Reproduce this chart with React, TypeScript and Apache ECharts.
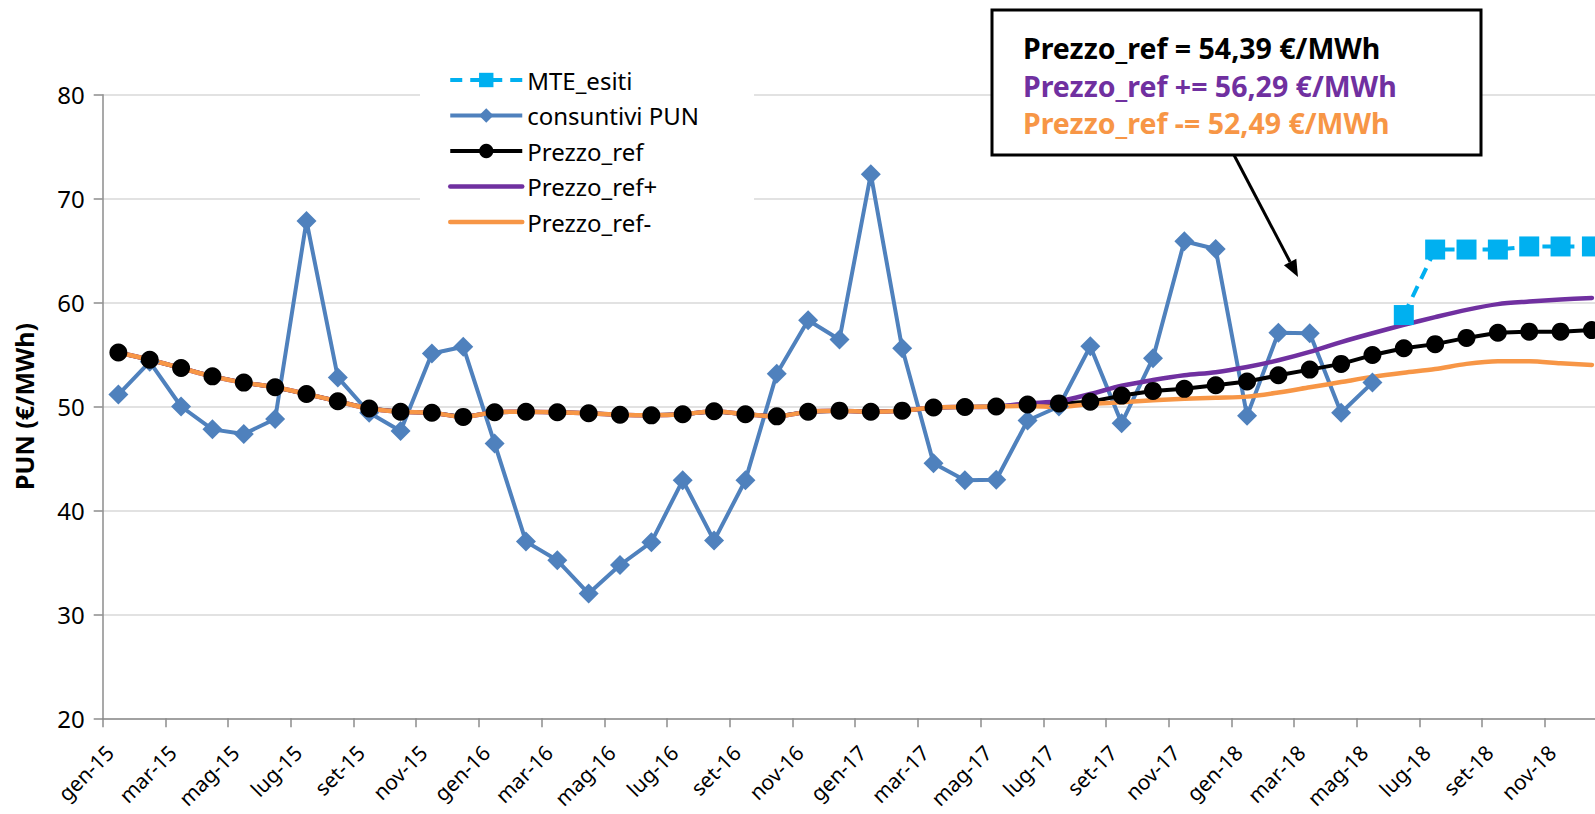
import React, { useEffect, useRef } from 'react';
import * as echarts from 'echarts';

const FONT = '"Noto Sans", "DejaVu Sans", sans-serif';

const months = [
  'gen-15', 'feb-15', 'mar-15', 'apr-15', 'mag-15', 'giu-15', 'lug-15', 'ago-15', 'set-15', 'ott-15', 'nov-15', 'dic-15',
  'gen-16', 'feb-16', 'mar-16', 'apr-16', 'mag-16', 'giu-16', 'lug-16', 'ago-16', 'set-16', 'ott-16', 'nov-16', 'dic-16',
  'gen-17', 'feb-17', 'mar-17', 'apr-17', 'mag-17', 'giu-17', 'lug-17', 'ago-17', 'set-17', 'ott-17', 'nov-17', 'dic-17',
  'gen-18', 'feb-18', 'mar-18', 'apr-18', 'mag-18', 'giu-18', 'lug-18', 'ago-18', 'set-18', 'ott-18', 'nov-18', 'dic-18',
];

// consuntivi PUN: gen-15 .. mag-18
const consuntiviPUN = [
  51.15, 54.3, 50.0, 47.8, 47.35, 48.8, 67.85, 52.8, 49.4, 47.65, 55.1, 55.75,
  46.45, 37.0, 35.2, 32.0, 34.75, 36.95, 42.9, 37.1, 42.9, 53.15, 58.3, 56.45,
  72.35, 55.6, 44.55, 42.9, 42.95, 48.65, 50.0, 55.8, 48.4, 54.65, 65.9, 65.15,
  49.1, 57.1, 57.05, 49.4, 52.3,
];

const prezzoRef = [
  55.2, 54.5, 53.7, 52.9, 52.3, 51.85, 51.2, 50.5, 49.8, 49.5, 49.4, 49.0,
  49.45, 49.5, 49.45, 49.35, 49.2, 49.15, 49.25, 49.55, 49.25, 49.05, 49.5, 49.6,
  49.5, 49.6, 49.9, 49.95, 50.0, 50.2, 50.3, 50.45, 51.05, 51.5, 51.7, 52.05,
  52.4, 53.0, 53.55, 54.1, 54.95, 55.6, 56.0, 56.6, 57.1, 57.2, 57.2, 57.35,
];

const prezzoRefPlus = [
  55.2, 54.5, 53.7, 52.9, 52.3, 51.85, 51.2, 50.5, 49.8, 49.5, 49.4, 49.0,
  49.45, 49.5, 49.45, 49.35, 49.2, 49.15, 49.25, 49.55, 49.25, 49.05, 49.5, 49.6,
  49.5, 49.6, 49.9, 49.95, 50.0, 50.3, 50.5, 51.2, 52.0, 52.55, 53.0, 53.3,
  53.8, 54.45, 55.25, 56.2, 57.05, 57.85, 58.6, 59.3, 59.85, 60.1, 60.3, 60.45,
];

const prezzoRefMinus = [
  55.2, 54.5, 53.7, 52.9, 52.3, 51.85, 51.2, 50.5, 49.8, 49.5, 49.4, 49.0,
  49.45, 49.5, 49.45, 49.35, 49.2, 49.15, 49.25, 49.55, 49.25, 49.05, 49.5, 49.6,
  49.5, 49.6, 49.9, 49.95, 50.0, 50.05, 49.95, 50.25, 50.4, 50.6, 50.75, 50.85,
  50.95, 51.35, 51.85, 52.35, 52.85, 53.25, 53.6, 54.1, 54.35, 54.35, 54.15, 54.0,
];

const mteMonths = ['giu-18', 'lug-18', 'ago-18', 'set-18', 'ott-18', 'nov-18', 'dic-18'];
const mteEsiti = [58.8, 65.1, 65.1, 65.1, 65.4, 65.4, 65.4];

const yMin = 20;
const yMax = 80;
const yInterval = 10;

const seriesNames = ['MTE_esiti', 'consuntivi PUN', 'Prezzo_ref', 'Prezzo_ref+', 'Prezzo_ref-'];
const calloutLines = [
  { text: 'Prezzo_ref = 54,39 €/MWh', color: '#000000' },
  { text: 'Prezzo_ref += 56,29 €/MWh', color: '#7030A0' },
  { text: 'Prezzo_ref -= 52,49 €/MWh', color: '#F79646' },
];

export default function App() {
  const ref = useRef<HTMLDivElement>(null);

  useEffect(() => {
    if (!ref.current) return;
    const chart = echarts.init(ref.current, undefined, { renderer: 'svg' });

    // arrow geometry
    const ax1 = 1234, ay1 = 155, tipX = 1298, tipY = 277;
    const dx = tipX - ax1, dy = tipY - ay1;
    const len = Math.sqrt(dx * dx + dy * dy);
    const ux = dx / len, uy = dy / len;
    const headLen = 17, headHalf = 7;
    const bx = tipX - ux * headLen, by = tipY - uy * headLen;
    const px = -uy, py = ux;

    const option: any = {
      animation: false,
      backgroundColor: '#ffffff',
      grid: { left: 102.7, top: 94.7, width: 1504.9, height: 623.6, containLabel: false },
      legend: {
        orient: 'vertical',
        left: 420,
        top: 60,
        padding: [8, 55, 18, 28],
        backgroundColor: '#ffffff',
        itemWidth: 72,
        itemHeight: 18,
        itemGap: 11.5,
        textStyle: { fontSize: 24, lineHeight: 24, color: '#000', fontFamily: FONT },
        data: [
          { name: seriesNames[0], lineStyle: { width: 4 } },
          { name: seriesNames[1], lineStyle: { width: 4 } },
          { name: seriesNames[2], lineStyle: { width: 4 } },
          { name: seriesNames[3], lineStyle: { width: 4.5 }, itemStyle: { opacity: 0 } },
          { name: seriesNames[4], lineStyle: { width: 4.5 }, itemStyle: { opacity: 0 } },
        ],
      },
      xAxis: {
        type: 'category',
        data: months,
        boundaryGap: true,
        axisLine: { show: true, lineStyle: { color: '#8c8c8c', width: 1.5 } },
        axisTick: { show: true, interval: 1, length: 9, lineStyle: { color: '#8c8c8c', width: 1.5 } },
        axisLabel: {
          interval: 1,
          rotate: 45,
          margin: 22,
          padding: [0, 12, 0, 0],
          fontSize: 21,
          color: '#000',
          fontFamily: FONT,
        },
        splitLine: { show: false },
      },
      yAxis: {
        type: 'value',
        min: yMin,
        max: yMax,
        interval: yInterval,
        name: 'PUN (€/MWh)',
        nameLocation: 'middle',
        nameGap: 66,
        nameTextStyle: { fontSize: 25, fontWeight: 'bold', color: '#000', fontFamily: FONT },
        axisLine: { show: true, lineStyle: { color: '#8c8c8c', width: 1.5 } },
        axisTick: { show: true, length: 9, lineStyle: { color: '#8c8c8c', width: 1.5 } },
        axisLabel: { fontSize: 24, color: '#000', margin: 18, fontFamily: FONT },
        splitLine: { show: true, lineStyle: { color: '#d9d9d9', width: 1.5 } },
      },
      series: [
        {
          name: 'MTE_esiti',
          type: 'line',
          data: mteMonths.map((m, i) => [m, mteEsiti[i]]),
          symbol: 'rect',
          symbolSize: 20,
          itemStyle: { color: '#00B0F0' },
          lineStyle: { color: '#00B0F0', width: 4, type: [12, 8] },
        },
        {
          name: 'consuntivi PUN',
          type: 'line',
          data: consuntiviPUN,
          symbol: 'diamond',
          symbolSize: 20,
          itemStyle: { color: '#4F81BD' },
          lineStyle: { color: '#4F81BD', width: 4, join: 'round' },
        },
        {
          name: 'Prezzo_ref',
          type: 'line',
          data: prezzoRef,
          symbol: 'circle',
          symbolSize: 18,
          itemStyle: { color: '#000000' },
          lineStyle: { color: '#000000', width: 4, join: 'round' },
        },
        {
          name: 'Prezzo_ref+',
          type: 'line',
          data: prezzoRefPlus,
          symbol: 'none',
          smooth: 0.3,
          itemStyle: { color: '#7030A0' },
          lineStyle: { color: '#7030A0', width: 4.5, join: 'round', cap: 'round' },
        },
        {
          name: 'Prezzo_ref-',
          type: 'line',
          data: prezzoRefMinus,
          symbol: 'none',
          smooth: 0.3,
          itemStyle: { color: '#F79646' },
          lineStyle: { color: '#F79646', width: 4.5, join: 'round', cap: 'round' },
        },
      ],
      graphic: [
        {
          type: 'rect',
          z: 100,
          shape: { x: 992, y: 10, width: 489, height: 145 },
          style: { fill: '#ffffff', stroke: '#000000', lineWidth: 3 },
        },
        ...calloutLines.map((l, i) => ({
          type: 'text',
          z: 101,
          x: 1023,
          y: 48 + i * 37.5,
          style: {
            text: l.text,
            fill: l.color,
            fontSize: 28.5,
            fontWeight: 'bold',
            fontFamily: FONT,
            align: 'left',
            verticalAlign: 'middle',
          },
        })),
        {
          type: 'line',
          z: 101,
          shape: { x1: ax1, y1: ay1, x2: bx, y2: by },
          style: { stroke: '#000000', lineWidth: 3 },
        },
        {
          type: 'polygon',
          z: 101,
          shape: {
            points: [
              [tipX, tipY],
              [bx + px * headHalf, by + py * headHalf],
              [bx - px * headHalf, by - py * headHalf],
            ],
          },
          style: { fill: '#000000' },
        },
      ],
    };

    chart.setOption(option);
    return () => chart.dispose();
  }, []);

  return (
    <div
      style={{
        position: 'fixed',
        left: 0,
        top: 0,
        width: 1595,
        height: 814,
        overflow: 'hidden',
        background: '#fff',
      }}
    >
      <div ref={ref} style={{ width: 1625, height: 814 }} />
    </div>
  );
}
